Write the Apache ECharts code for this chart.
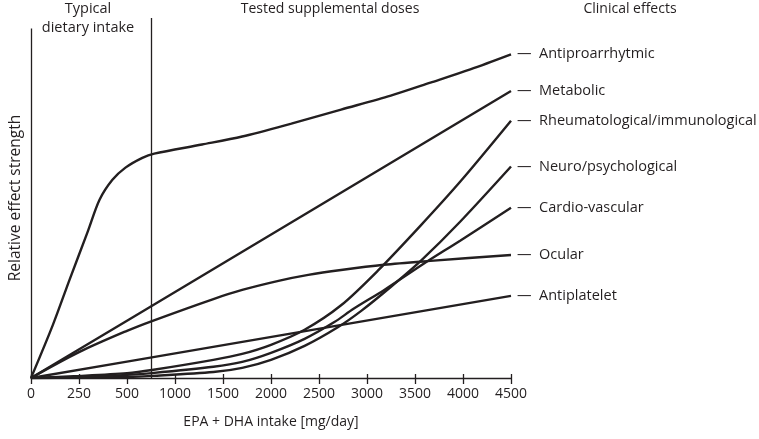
<!DOCTYPE html>
<html>
<head>
<meta charset="utf-8">
<script src="https://cdn.jsdelivr.net/npm/echarts@6/dist/echarts.min.js"></script>
<style>
  html, body { margin: 0; padding: 0; background: #fff; }
  #container { width: 759px; height: 439px; }
</style>
</head>
<body>
<div id="container"></div>
<script>
// 横轴刻度（刻度等距，但数值不等距）
const tickLabels = [0, 250, 500, 1000, 1500, 2000, 2500, 3000, 3500, 4000, 4500]
// 典型膳食摄入 / 补充剂量 分界
const dietaryLimit = 750

// 各效应曲线 [EPA+DHA mg/day, 相对效应强度]
const antiproarrhytmic = [[0, 0], [114, 15.2], [202, 28.3], [295, 41.8], [357, 51.0], [424, 56.7], [492, 60.2], [660, 63.0], [784, 64.2], [1281, 66.8], [1700, 69.1], [2212, 72.8], [2730, 76.8], [3248, 80.8], [3661, 84.5], [4076, 88.3], [4500, 92.6]]
const metabolic = [[0, 0], [500, 16.4], [4500, 82.1]]
const rheumatological = [[0, 0], [250, 0.6], [500, 1.4], [760, 2.3], [1400, 5.2], [1700, 6.9], [2000, 9.5], [2350, 13.8], [2730, 20.8], [3113, 30.7], [3558, 43.6], [3972, 56.2], [4500, 73.6]]
const neuro = [[0, 0], [250, 0.1], [500, 0.3], [760, 0.6], [1400, 1.7], [1700, 2.9], [2000, 5.2], [2350, 9.2], [2700, 14.6], [2940, 19.2], [3250, 26.1], [3560, 33.5], [3970, 44.7], [4500, 60.5]]
const cardio = [[0, 0], [250, 0.3], [500, 0.9], [760, 1.4], [1400, 3.2], [1700, 4.6], [2000, 7.2], [2350, 11.2], [2660, 16.0], [2860, 19.8], [3180, 25.2], [3590, 32.7], [3970, 39.3], [4500, 48.7]]
const ocular = [[0, 0], [250, 7.4], [500, 13.5], [760, 16.3], [1400, 22.6], [1700, 25.2], [2078, 27.8], [2388, 29.5], [2730, 30.9], [3175, 32.4], [3661, 33.5], [4500, 35.2]]
const antiplatelet = [[0, 0], [500, 4.7], [4500, 23.5]]

const seriesNames = ['Antiproarrhytmic', 'Metabolic', 'Rheumatological/immunological', 'Neuro/psychological', 'Cardio-vascular', 'Ocular', 'Antiplatelet']
const seriesData = [antiproarrhytmic, metabolic, rheumatological, neuro, cardio, ocular, antiplatelet]
const straight = [false, true, false, false, false, false, true]

const yTop = 100 // 纵轴线顶端
const yMax = 103 // 分界线顶端

const ink = '#231f20'
const font = 'Open Sans'

// mg/day -> 刻度序号
function toIdx (mg) {
  for (let i = 1; i < tickLabels.length; i++) {
    if (mg <= tickLabels[i]) {
      let a = tickLabels[i - 1]
      let b = tickLabels[i]
      return i - 1 + (mg - a) / (b - a)
    }
  }
  return tickLabels.length - 1
}

let series = seriesNames.map((name, i) => {
  return {
    name: name,
    type: 'line',
    data: seriesData[i].map(p => [toIdx(p[0]), p[1]]),
    smooth: straight[i] ? false : 0.3,
    showSymbol: false,
    symbol: 'none',
    silent: true,
    lineStyle: { color: ink, width: 2.4 },
    endLabel: {
      show: true,
      formatter: '—  ' + name,
      color: ink,
      fontFamily: font,
      fontSize: 14.5,
      distance: 6
    },
    labelLayout: { hideOverlap: false }
  }
})

// 纵轴线与 750 mg 分界线
series.push({
  type: 'line',
  data: [],
  silent: true,
  markLine: {
    silent: true,
    symbol: 'none',
    label: { show: false },
    lineStyle: { color: ink, width: 1.3, type: 'solid' },
    data: [
      [{ coord: [0, 0] }, { coord: [0, yTop] }],
      [{ coord: [toIdx(dietaryLimit), 0] }, { coord: [toIdx(dietaryLimit), yMax] }]
    ]
  }
})

let myChart = echarts.init(document.getElementById('container'), null, { renderer: 'canvas' })

let option = {
  animation: false,
  backgroundColor: '#fff',
  grid: { left: 28, right: 248, top: 18, bottom: 61, containLabel: false },
  xAxis: [
    {
      type: 'value',
      min: 0,
      max: tickLabels.length - 1,
      interval: 1,
      name: 'EPA + DHA intake [mg/day]',
      nameLocation: 'middle',
      nameGap: 37,
      nameTextStyle: { color: ink, fontFamily: font, fontSize: 14 },
      axisLine: { show: true, lineStyle: { color: ink, width: 1.3 } },
      axisTick: { show: true, length: 6, lineStyle: { color: ink, width: 1.3 } },
      axisLabel: {
        color: ink,
        fontFamily: font,
        fontSize: 14,
        margin: 9,
        formatter: v => tickLabels[v]
      },
      splitLine: { show: false }
    },
    {
      // 刻度向上的部分
      type: 'value',
      position: 'bottom',
      min: 0,
      max: tickLabels.length - 1,
      interval: 1,
      axisLine: { show: false },
      axisTick: { show: true, inside: true, length: 4, lineStyle: { color: ink, width: 1.3 } },
      axisLabel: { show: false },
      splitLine: { show: false }
    }
  ],
  yAxis: {
    type: 'value',
    min: 0,
    max: yMax,
    name: 'Relative effect strength',
    nameLocation: 'middle',
    nameGap: 7,
    nameRotate: 90,
    nameTextStyle: { color: ink, fontFamily: font, fontSize: 15.5 },
    axisLine: { show: false },
    axisTick: { show: false },
    axisLabel: { show: false },
    splitLine: { show: false }
  },
  graphic: [
    { type: 'text', x: 88, y: 9, style: { text: 'Typical', font: '14.5px "Open Sans"', fill: ink, align: 'center', verticalAlign: 'middle' } },
    { type: 'text', x: 88, y: 28, style: { text: 'dietary intake', font: '14.5px "Open Sans"', fill: ink, align: 'center', verticalAlign: 'middle' } },
    { type: 'text', x: 330, y: 9, style: { text: 'Tested supplemental doses', font: '14px "Open Sans"', fill: ink, align: 'center', verticalAlign: 'middle' } },
    { type: 'text', x: 630, y: 9, style: { text: 'Clinical effects', font: '14px "Open Sans"', fill: ink, align: 'center', verticalAlign: 'middle' } }
  ],
  series: series
}

myChart.setOption(option)
</script>
</body>
</html>
